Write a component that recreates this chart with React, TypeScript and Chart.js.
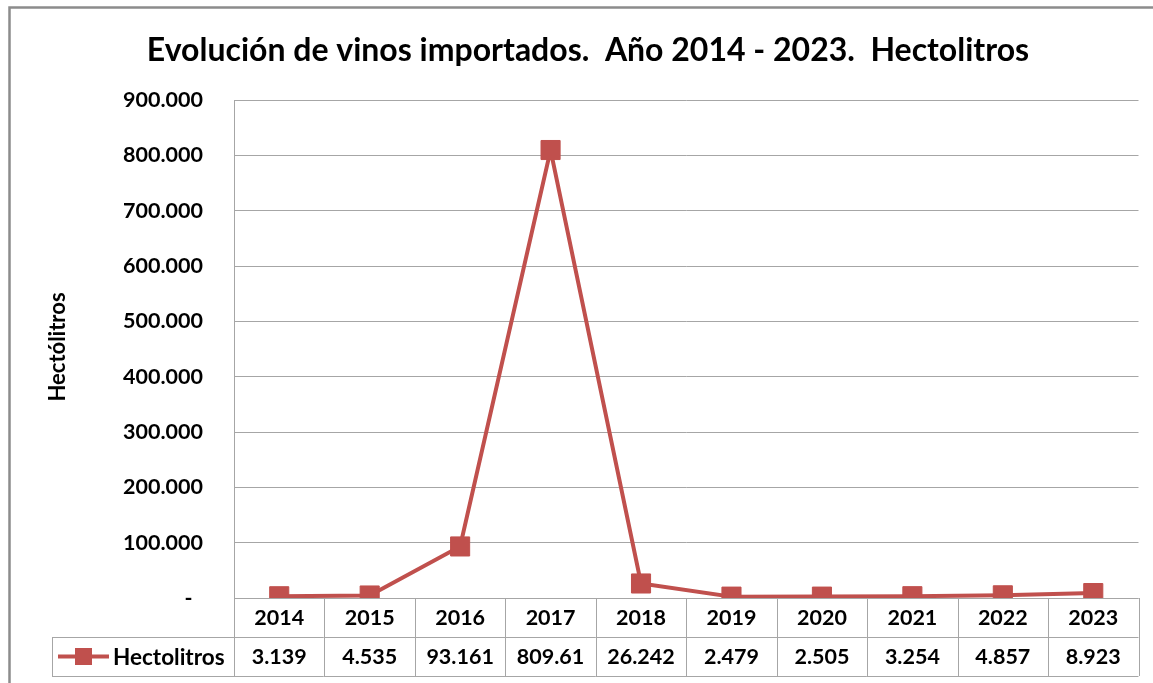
import React, { useEffect, useRef } from "react";
import { Chart, registerables } from "chart.js";

Chart.register(...registerables);

const years = ["2014", "2015", "2016", "2017", "2018", "2019", "2020", "2021", "2022", "2023"];
const hectolitros = [3139, 4535, 93161, 809610, 26242, 2479, 2505, 3254, 4857, 8923];
const tableLabels = ["3.139", "4.535", "93.161", "809.61", "26.242", "2.479", "2.505", "3.254", "4.857", "8.923"];
const yTicks = [0, 100000, 200000, 300000, 400000, 500000, 600000, 700000, 800000, 900000];
const seriesName = "Hectolitros";
const yTitle = "Hectólitros";
const titleText = "Evolución de vinos importados.  Año 2014 - 2023.  Hectolitros";

const RED = "#C0504D";
const GRID = "#a6a6a6";
const FONT = "Lato, 'Open Sans', sans-serif";

function fmt(v: number): string {
  if (v === 0) return "-  ";
  return v.toLocaleString("de-DE");
}

const tablePlugin = {
  id: "excelTable",
  afterDraw(chart: any) {
    const ctx = chart.ctx as CanvasRenderingContext2D;
    const area = chart.chartArea;
    const xs = chart.scales.x;
    const n = years.length;
    const colW = (area.right - area.left) / n;
    const rowH = 39;
    const top = area.bottom;
    ctx.save();

    // outer border
    ctx.strokeStyle = "#8c8c8c";
    ctx.lineWidth = 2.5;
    ctx.strokeRect(9.5, 7.5, 1160, 700);

    // title
    ctx.fillStyle = "#000";
    ctx.font = `bold 32px ${FONT}`;
    ctx.textAlign = "center";
    ctx.textBaseline = "alphabetic";
    ctx.fillText(titleText, 588, 61);

    // y axis title
    ctx.save();
    ctx.translate(58, 347);
    ctx.rotate(-Math.PI / 2);
    ctx.font = `bold 22px ${FONT}`;
    ctx.textAlign = "center";
    ctx.textBaseline = "middle";
    ctx.fillText(yTitle, 0, 0);
    ctx.restore();

    // table lines
    ctx.strokeStyle = GRID;
    ctx.lineWidth = 1;
    ctx.beginPath();
    const hl = (x1: number, x2: number, y: number) => {
      ctx.moveTo(x1, Math.round(y) + 0.5);
      ctx.lineTo(x2, Math.round(y) + 0.5);
    };
    const vl = (x: number, y1: number, y2: number) => {
      ctx.moveTo(Math.round(x) + 0.5, y1);
      ctx.lineTo(Math.round(x) + 0.5, y2);
    };
    hl(area.left, area.right, top);
    hl(52, area.right, top + rowH);
    hl(52, area.right, top + 2 * rowH);
    for (let i = 0; i <= n; i++) {
      vl(area.left + i * colW, top, top + 2 * rowH);
    }
    vl(52, top + rowH, top + 2 * rowH);
    ctx.stroke();

    // texts
    ctx.fillStyle = "#000";
    ctx.font = `bold 21.5px ${FONT}`;
    ctx.textAlign = "center";
    ctx.textBaseline = "middle";
    for (let i = 0; i < n; i++) {
      const cx = xs.getPixelForValue(i);
      ctx.fillText(years[i], cx, top + rowH / 2 + 1);
      ctx.fillText(tableLabels[i], cx, top + rowH * 1.5 + 1);
    }

    // legend key
    const ly = top + rowH * 1.5;
    ctx.strokeStyle = RED;
    ctx.lineWidth = 4;
    ctx.beginPath();
    ctx.moveTo(58, ly);
    ctx.lineTo(109, ly);
    ctx.stroke();
    ctx.fillStyle = RED;
    ctx.fillRect(75, ly - 8.5, 17, 17);
    ctx.fillStyle = "#000";
    ctx.textAlign = "left";
    ctx.font = `bold 22.5px ${FONT}`;
    ctx.fillText(seriesName, 113, ly + 1);

    ctx.restore();
  },
};

export default function App() {
  const ref = useRef<HTMLCanvasElement | null>(null);
  useEffect(() => {
    if (!ref.current) return;
    const chart = new Chart(ref.current, {
      type: "line",
      data: {
        labels: years,
        datasets: [
          {
            label: seriesName,
            data: hectolitros,
            borderColor: RED,
            backgroundColor: RED,
            borderWidth: 4,
            pointStyle: "rect",
            pointRadius: 13.5,
            pointBorderWidth: 1,
            pointBackgroundColor: RED,
            pointBorderColor: RED,
            tension: 0,
          },
        ],
      },
      options: {
        responsive: false,
        animation: false,
        devicePixelRatio: 1,
        layout: { padding: { left: 0, top: 100, right: 13, bottom: 85 } },
        plugins: { legend: { display: false }, title: { display: false }, tooltip: { enabled: false } },
        scales: {
          x: { display: false, offset: true },
          y: {
            min: 0,
            max: 900000,
            afterBuildTicks: (s: any) => {
              s.ticks = yTicks.map((v) => ({ value: v }));
            },
            afterFit: (s: any) => {
              s.width = 234;
            },
            ticks: {
              callback: (v: any) => fmt(Number(v)),
              color: "#000",
              padding: 31,
              font: { family: FONT, size: 21.5, weight: "bold" },
            },
            grid: { color: GRID, drawTicks: false, lineWidth: 1 },
            border: { display: true, color: GRID },
          },
        },
      },
      plugins: [tablePlugin],
    } as any);
    return () => chart.destroy();
  }, []);
  return (
    <div style={{ position: "absolute", left: 0, top: 0, width: 1153, height: 683, background: "#fff" }}>
      <canvas ref={ref} width={1153} height={683} style={{ display: "block" }} />
    </div>
  );
}
